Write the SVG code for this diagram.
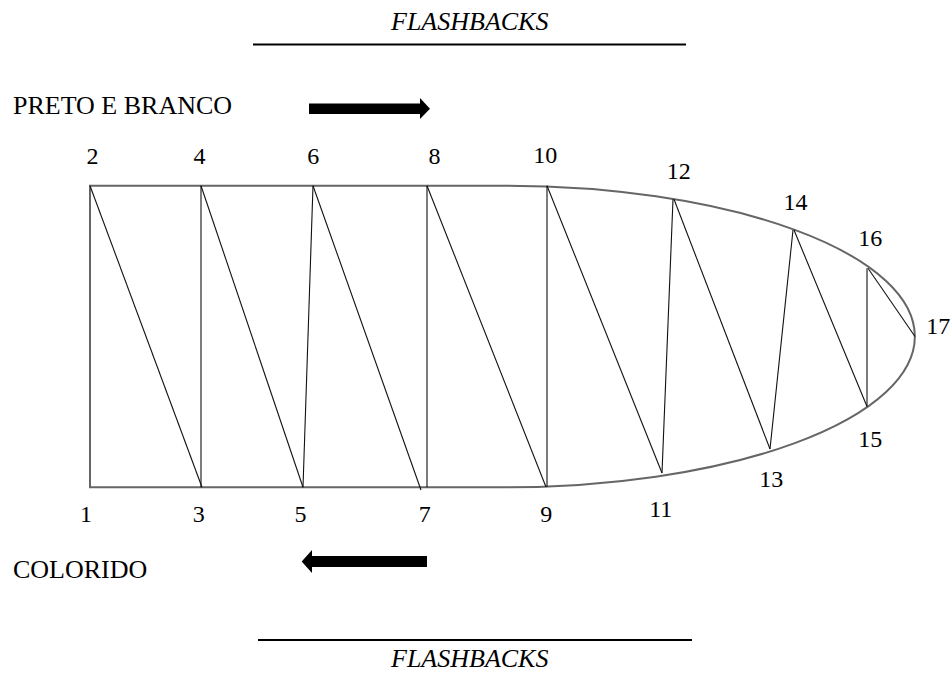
<svg xmlns="http://www.w3.org/2000/svg" width="952" height="675" viewBox="0 0 952 675">
<style>
text{font-family:"Liberation Serif","Times New Roman",serif;fill:#000}
.lbl{font-size:26px}
.ttl{font-size:26px;font-style:italic}
.num{font-size:24px;text-anchor:middle}
.outline{fill:none;stroke:#666;stroke-width:2}
.seg{stroke:#111;stroke-width:1.1;fill:none}
.rule{stroke:#000;stroke-width:2}
</style>
<rect width="952" height="675" fill="#fff"/>
<g id="title-top">
<text class="ttl" x="391" y="30">FLASHBACKS</text>
<line class="rule" x1="253" y1="44.5" x2="686" y2="44.5"/>
</g>
<g id="title-bottom">
<line class="rule" x1="258" y1="640" x2="692" y2="640"/>
<text class="ttl" x="391" y="667">FLASHBACKS</text>
</g>
<g id="label-pb">
<text class="lbl" x="13" y="114">PRETO E BRANCO</text>
<polygon points="309,103.5 420,103.5 420,98 430,108.7 420,119 420,114 309,114" fill="#000"/>
</g>
<g id="label-col">
<text class="lbl" x="13" y="578">COLORIDO</text>
<polygon points="427,556 312,556 312,550 301.7,561.5 312,573 312,567 427,567" fill="#000"/>
</g>
<g id="shape">
<path class="outline" d="M90,185.7 H505 A410,150.8 0 0 1 505,487.3 H90 Z"/>
</g>
<g id="connectors">
<line class="seg" x1="90" y1="185.7" x2="202" y2="487.3"/>
<line class="seg" x1="201" y1="185.7" x2="201" y2="487.3"/>
<line class="seg" x1="201" y1="185.7" x2="303" y2="487.3"/>
<line class="seg" x1="303" y1="487.3" x2="313" y2="185.7"/>
<line class="seg" x1="313" y1="185.7" x2="421" y2="490"/>
<line class="seg" x1="427" y1="185.7" x2="427" y2="487.3"/>
<line class="seg" x1="427" y1="185.7" x2="546" y2="487"/>
<line class="seg" x1="547" y1="185.7" x2="547" y2="487"/>
<line class="seg" x1="547" y1="185.7" x2="662" y2="473"/>
<line class="seg" x1="662" y1="473" x2="673" y2="199.3"/>
<line class="seg" x1="674" y1="199.3" x2="770" y2="449"/>
<line class="seg" x1="770" y1="449" x2="793" y2="230"/>
<line class="seg" x1="794" y1="230" x2="867" y2="406.5"/>
<line class="seg" x1="867" y1="268.3" x2="867" y2="406.5"/>
<line class="seg" x1="868" y1="268.3" x2="915" y2="336.5"/>
</g>
<g id="n1"><text class="num" x="86" y="521.7">1</text></g>
<g id="n2"><text class="num" x="92.5" y="164">2</text></g>
<g id="n3"><text class="num" x="198.7" y="521.7">3</text></g>
<g id="n4"><text class="num" x="199.5" y="164">4</text></g>
<g id="n5"><text class="num" x="300.5" y="521.7">5</text></g>
<g id="n6"><text class="num" x="313.3" y="164">6</text></g>
<g id="n7"><text class="num" x="424.7" y="521.7">7</text></g>
<g id="n8"><text class="num" x="434.5" y="164">8</text></g>
<g id="n9"><text class="num" x="546.3" y="521.7">9</text></g>
<g id="n10"><text class="num" x="545.3" y="162.7">10</text></g>
<g id="n11"><text class="num" x="660.8" y="516.7">11</text></g>
<g id="n12"><text class="num" x="678.8" y="179">12</text></g>
<g id="n13"><text class="num" x="771.3" y="486.7">13</text></g>
<g id="n14"><text class="num" x="795.5" y="210">14</text></g>
<g id="n15"><text class="num" x="870.3" y="446.7">15</text></g>
<g id="n16"><text class="num" x="870.3" y="246">16</text></g>
<g id="n17"><text class="num" x="938.3" y="334">17</text></g>
</svg>
